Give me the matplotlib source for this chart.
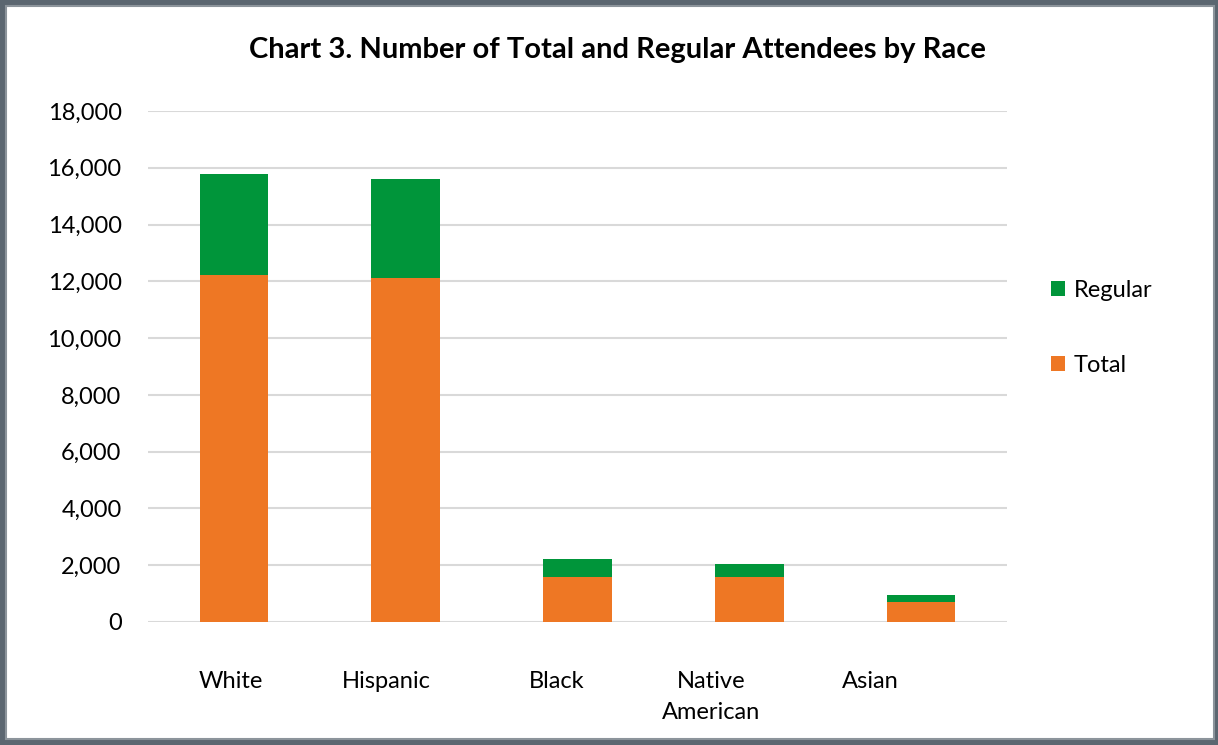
import matplotlib.pyplot as plt
from matplotlib.patches import Rectangle
from matplotlib.transforms import ScaledTranslation
from matplotlib.ticker import FuncFormatter

plt.rcParams['font.family'] = ['Lato', 'DejaVu Sans']

# Data
races = ['White', 'Hispanic', 'Black', 'Native\nAmerican', 'Asian']
total = [12210, 12130, 1600, 1600, 700]
regular = [3570, 3475, 615, 450, 235]

orange = '#EE7724'
green = '#00953A'

fig = plt.figure(figsize=(12.18, 7.45), dpi=100)

# Outer frame
fig.patches.append(Rectangle((0, 0), 1, 1, transform=fig.transFigure,
                             facecolor='#5B6670', edgecolor='none', zorder=-3))
fig.patches.append(Rectangle((6 / 1218, 6 / 745), 1 - 10 / 1218, 1 - 12 / 745,
                             transform=fig.transFigure, facecolor='white',
                             edgecolor='#8C949B', linewidth=1.5, zorder=-2))

ax = fig.add_axes([148 / 1218, 123 / 745, 859 / 1218, 511 / 745])

x = range(len(races))
ax.bar(x, total, width=0.4, color=orange, label='Total', zorder=3)
ax.bar(x, regular, width=0.4, bottom=total, color=green, label='Regular', zorder=3)

ax.set_xlim(-0.5, 4.5)
ax.set_ylim(0, 18000)
ax.set_yticks(range(0, 18001, 2000))
ax.yaxis.set_major_formatter(FuncFormatter(lambda v, p: f'{int(v):,}'))
ax.grid(True, axis='y', color='#D9D9D9', linewidth=1.5, zorder=0)
ax.set_axisbelow(True)
for s in ax.spines.values():
    s.set_visible(False)
ax.tick_params(axis='both', length=0, labelsize=17, colors='black')
ax.tick_params(axis='y', pad=19)
ax.tick_params(axis='x', pad=35)

ax.set_xticks(list(x))
ax.set_xticklabels(races, va='top', ha='center', linespacing=1.6)
# Excel drifts the category labels to the left
shifts = [-3, -19, -21, -38, -51]
for lbl, dx in zip(ax.get_xticklabels(), shifts):
    lbl.set_transform(lbl.get_transform() + ScaledTranslation(dx / 100, 0, fig.dpi_scale_trans))

fig.text(617 / 1218, (745 - 50) / 745, 'Chart 3. Number of Total and Regular Attendees by Race',
         ha='center', va='center', fontsize=21, fontweight='bold')

handles, labels = ax.get_legend_handles_labels()
ax.legend(handles[::-1], labels[::-1], loc='center left',
          bbox_to_anchor=(1030 / 1218, (745 - 328) / 745), bbox_transform=fig.transFigure,
          frameon=False, fontsize=17, labelspacing=2.3, handlelength=0.6,
          handleheight=0.6, handletextpad=0.35)

fig.savefig('out.png', dpi=100)
